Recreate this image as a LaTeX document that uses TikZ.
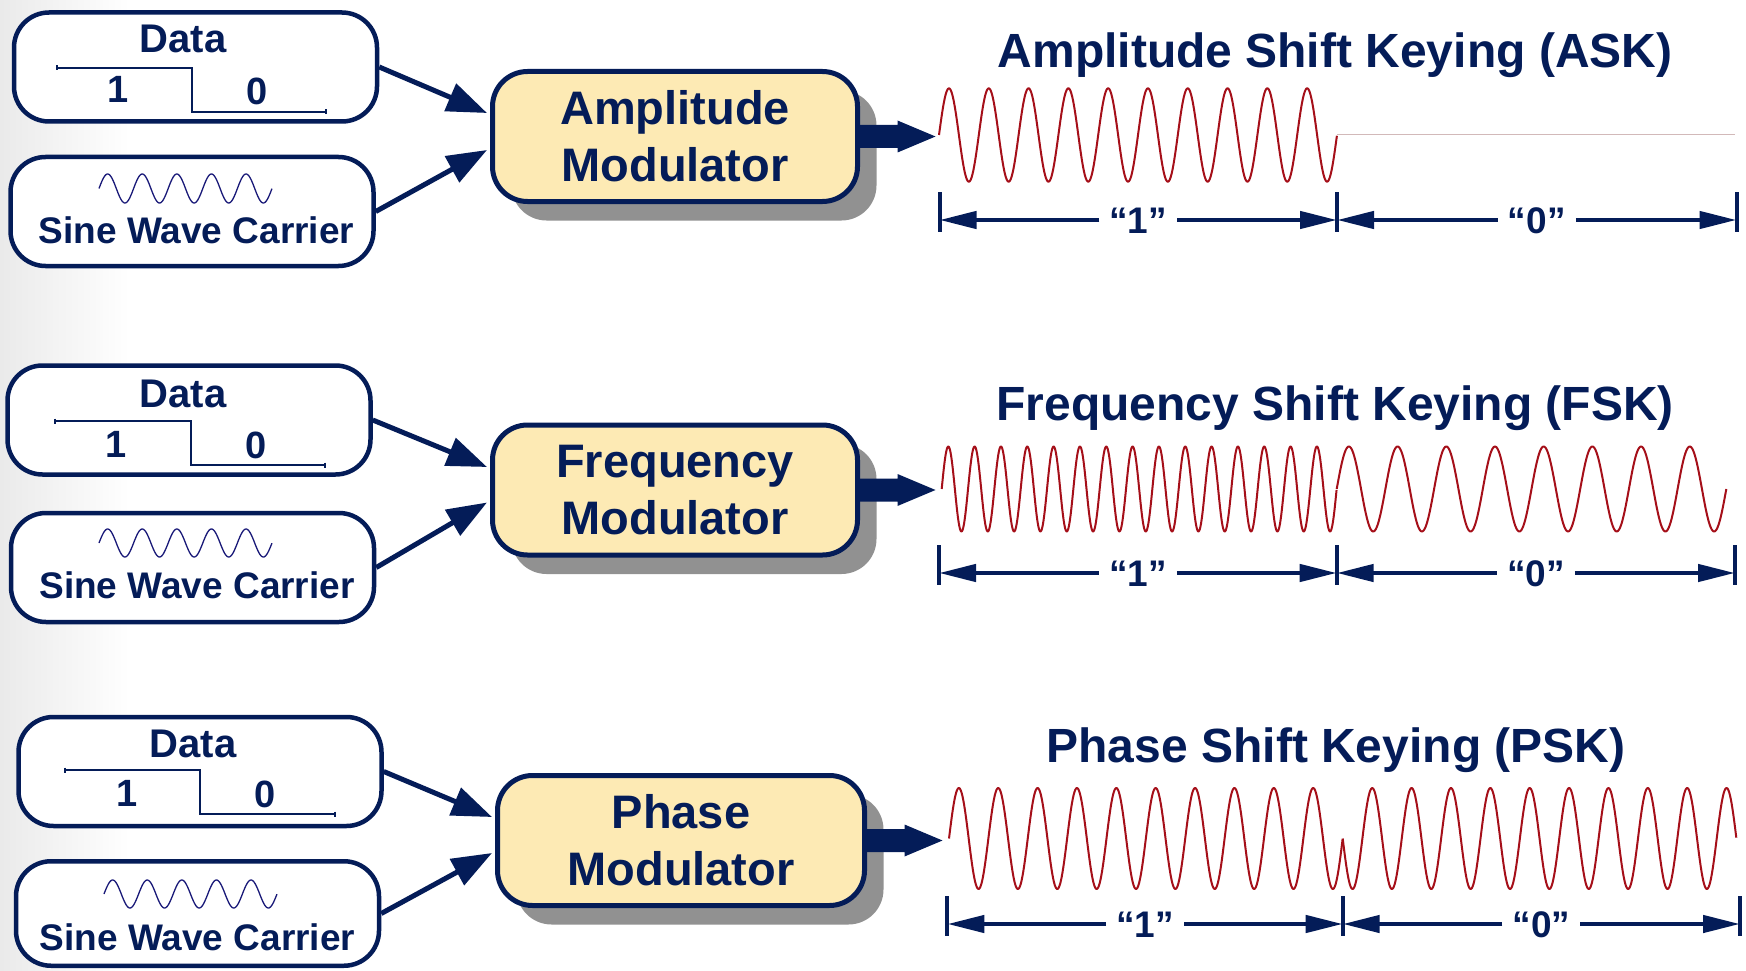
\documentclass[tikz,border=0pt]{standalone}
\usepackage{fontspec}
\setmainfont{Liberation Sans}
\usetikzlibrary{arrows.meta,calc,shadows}
\definecolor{navy}{RGB}{4,28,88}
\definecolor{wavered}{RGB}{165,15,25}
\definecolor{cream}{RGB}{253,234,180}
\definecolor{shadowgray}{RGB}{145,145,145}
\definecolor{sineblue}{RGB}{25,25,120}
\definecolor{flatline}{RGB}{210,185,185}
\definecolor{bgleft}{RGB}{234,234,234}

\tikzset{
  inbox/.style={draw=navy, line width=4.5pt, rounded corners=35pt, fill=white,
    minimum width=363pt, minimum height=109pt, inner sep=0pt},
  modbox/.style={draw=navy, line width=5pt, rounded corners=35pt, fill=cream,
    minimum width=365pt, minimum height=130pt, inner sep=0pt, align=center,
    text=navy, font=\fontsize{47}{57}\selectfont\bfseries,
    drop shadow={shadow xshift=19pt, shadow yshift=-19pt, fill=shadowgray, opacity=1}},
  titletxt/.style={text=navy, font=\fontsize{48}{56}\selectfont\bfseries, anchor=base, inner sep=0pt},
  datatxt/.style={text=navy, font=\fontsize{40}{48}\selectfont\bfseries, anchor=base, inner sep=0pt},
  bittxt/.style={text=navy, font=\fontsize{38}{46}\selectfont\bfseries, anchor=base, inner sep=0pt},
  sinetxt/.style={text=navy, font=\fontsize{37}{44}\selectfont\bfseries, anchor=base, inner sep=0pt},
  dimlbl/.style={text=navy, font=\fontsize{37}{44}\selectfont\bfseries, inner xsep=10pt,
    inner ysep=0pt, text height=27pt, text depth=0pt},
  dimarrow/.style={draw=navy, line width=4.5pt, -{Triangle[length=37pt,width=17pt]}},
  tickline/.style={draw=navy, line width=4pt},
  inarrow/.style={draw=navy, line width=5pt, -{Triangle[length=40pt,width=29pt]}},
  wave/.style={draw=wavered, line width=2pt, line join=round},
  stepline/.style={draw=navy, line width=1.6pt},
  sinesmall/.style={draw=sineblue, line width=1.3pt},
  bigarrowfill/.style={fill=navy}
}

\newcommand\dimrow[5]{%
  \coordinate (#1L) at (#3,#2);
  \coordinate (#1M) at (#4,#2);
  \coordinate (#1R) at (#5,#2);
  \draw[tickline] ($(#1L)+(0,-28)$) -- ($(#1L)+(0,12)$);
  \draw[tickline] ($(#1M)+(0,-28)$) -- ($(#1M)+(0,12)$);
  \draw[tickline] ($(#1R)+(0,-28)$) -- ($(#1R)+(0,12)$);
  \node[dimlbl] (#1a) at ($(#1L)!0.5!(#1M)$) {“1”};
  \node[dimlbl] (#1b) at ($(#1M)!0.5!(#1R)$) {“0”};
  \draw[dimarrow] (#1a.west) -- (#1L);
  \draw[dimarrow] (#1a.east) -- (#1M);
  \draw[dimarrow] (#1b.west) -- (#1M);
  \draw[dimarrow] (#1b.east) -- (#1R);
}

\newcommand\bigarr[1]{%
  \fill[bigarrowfill] ($(#1.east)+(-2,-11.5)$) -- ++(39.5,0) -- ++(0,-4.5)
    -- ++(38,16) -- ++(-38,16) -- ++(0,-4.5) -- ++(-39.5,0) -- cycle;
}

\begin{document}
\begin{tikzpicture}[x=1pt,y=-1pt]
\useasboundingbox (0,0) rectangle (1746,971);
\fill[white] (0,0) rectangle (1746,971);
\shade[left color=bgleft, right color=white] (0,0) rectangle (130,971);

% ---------- modulators ----------
\node[modbox] (m1) at (675,136.5) {Amplitude\\Modulator};
\node[modbox] (m2) at (675,490) {Frequency\\Modulator};
\node[modbox, minimum width=367pt] (m3) at (681,840.5) {Phase\\Modulator};

% ---------- input boxes ----------
\node[inbox] (d1) at (195.5,67) {};
\node[inbox] (s1) at (192,211.5) {};
\node[inbox] (d2) at (189,420) {};
\node[inbox] (s2) at (192.5,567.5) {};
\node[inbox] (d3) at (200,771.5) {};
\node[inbox, minimum height=104.5pt] (s3) at (197.5,913.5) {};

% ---------- data box contents ----------
\node[datatxt] (d1t) at (183,53) {Data};
\draw[stepline] (57,68) -- (192,68) -- (192,112) -- (326,112);
\draw[stepline] (57,65.5) -- (57,70.5);
\draw[stepline] (326,109.5) -- (326,114.5);
\node[bittxt] (d1a) at (118,103) {1};
\node[bittxt] (d1b) at (257,105) {0};

\node[datatxt] (d2t) at (183,407) {Data};
\draw[stepline] (55,421) -- (191,421) -- (191,465) -- (325,465);
\draw[stepline] (55,418.5) -- (55,423.5);
\draw[stepline] (325,462.5) -- (325,467.5);
\node[bittxt] (d2a) at (116,457) {1};
\node[bittxt] (d2b) at (256,458) {0};

\node[datatxt] (d3t) at (193,757) {Data};
\draw[stepline] (65,770) -- (200,770) -- (200,814) -- (335,814);
\draw[stepline] (65,767.5) -- (65,772.5);
\draw[stepline] (335,811.5) -- (335,816.5);
\node[bittxt] (d3a) at (127,806) {1};
\node[bittxt] (d3b) at (265,807) {0};

% ---------- carrier box contents ----------
\draw[sinesmall] plot[domain=0:5, samples=200, variable=\t] ({99+34.6*\t},{188.5-14.5*sin(360*\t)});
\node[sinetxt] (s1t) at (196.5,243) {Sine Wave Carrier};
\draw[sinesmall] plot[domain=0:5, samples=200, variable=\t] ({99+34.6*\t},{543-14*sin(360*\t)});
\node[sinetxt] (s2t) at (197,598) {Sine Wave Carrier};
\draw[sinesmall] plot[domain=0:5, samples=200, variable=\t] ({104+34.6*\t},{894-14*sin(360*\t)});
\node[sinetxt] (s3t) at (197.5,950) {Sine Wave Carrier};

% ---------- input arrows ----------
\draw[inarrow] (d1.east) -- ($(m1.west)+(-3,-23.5)$);
\draw[inarrow] (s1.east) -- ($(m1.west)+(-3,13.5)$);
\draw[inarrow] (d2.east) -- ($(m2.west)+(-3,-23)$);
\draw[inarrow] (s2.east) -- ($(m2.west)+(-3,12.5)$);
\draw[inarrow] (d3.east) -- ($(m3.west)+(-3,-23.5)$);
\draw[inarrow] (s3.east) -- ($(m3.west)+(-3,12.5)$);

% ---------- output arrows ----------
\bigarr{m1}
\bigarr{m2}
\bigarr{m3}

% ---------- titles ----------
\node[titletxt] (t1) at (1335,68) {Amplitude Shift Keying (ASK)};
\node[titletxt] (t2) at (1335,420) {Frequency Shift Keying (FSK)};
\node[titletxt] (t3) at (1336,762) {Phase Shift Keying (PSK)};

% ---------- ASK waveform ----------
\draw[wave] plot[domain=0:10, samples=500, variable=\t] ({939+39.8*\t},{135-46.7*sin(360*\t)});
\draw[flatline, line width=1pt] (1337,135) -- (1735,135);

% ---------- FSK waveform ----------
\draw[wave] plot[domain=0:15, samples=700, variable=\t] ({941.7+26.33*\t},{489-42.5*sin(360*\t)});
\draw[wave] plot[domain=0:8, samples=400, variable=\t] ({1336.7+48.7*\t},{489-42.5*sin(360*\t)});

% ---------- PSK waveform ----------
\draw[wave] plot[domain=0:10, samples=500, variable=\t] ({949+39.37*\t},{838.5-50.5*sin(360*\t)});
\draw[wave] plot[domain=0:10, samples=500, variable=\t] ({1342.7+39.37*\t},{838.5+50.5*sin(360*\t)});

% ---------- bit duration markers ----------
\dimrow{a}{220}{939.5}{1337}{1736.5}
\dimrow{f}{573}{939}{1336.7}{1735}
\dimrow{p}{924}{947.4}{1342.7}{1740}
\end{tikzpicture}
\end{document}
